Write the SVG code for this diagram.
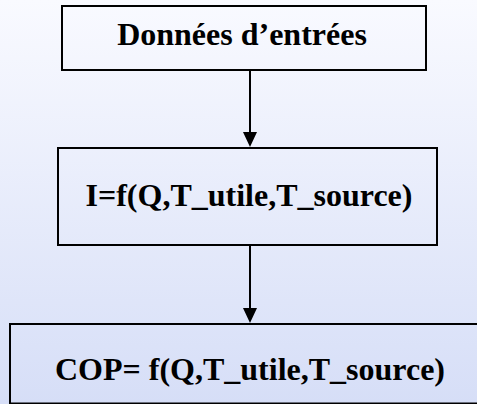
<svg xmlns="http://www.w3.org/2000/svg" width="477" height="404" viewBox="0 0 477 404">
  <defs>
    <linearGradient id="bg" x1="0" y1="0" x2="0" y2="1">
      <stop offset="0" stop-color="#f9faff"/>
      <stop offset="1" stop-color="#d6def7"/>
    </linearGradient>
  </defs>
  <style>
    .box { fill: none; stroke: #000; stroke-width: 2; }
    .label { font-weight: bold; font-size: 32px; fill: #000; text-anchor: middle; }
    .edge { stroke: #000; stroke-width: 2; fill: none; }
    .head { fill: #000; }
  </style>
  <rect x="0" y="0" width="477" height="404" fill="url(#bg)"/>

  <g id="connectors">
    <line class="edge" x1="250" y1="70" x2="250" y2="133"/>
    <path class="head" d="M243,132 L257,132 L250,147 Z"/>
    <line class="edge" x1="250" y1="245" x2="250" y2="309"/>
    <path class="head" d="M243,308 L257,308 L250,323 Z"/>
  </g>

  <g id="node-donnees">
    <rect class="box" x="62" y="6" width="364" height="64"/>
    <text class="label" font-family="Liberation Serif, serif" x="242" y="45">Données d’entrées</text>
  </g>

  <g id="node-intensite">
    <rect class="box" x="58" y="148" width="379" height="97"/>
    <text class="label" font-family="Liberation Serif, serif" x="249" y="206">I=f(Q,T_utile,T_source)</text>
  </g>

  <g id="node-cop">
    <rect class="box" x="10" y="324" width="480" height="79.5"/>
    <text class="label" font-family="Liberation Serif, serif" x="250" y="380">COP= f(Q,T_utile,T_source)</text>
  </g>
</svg>
